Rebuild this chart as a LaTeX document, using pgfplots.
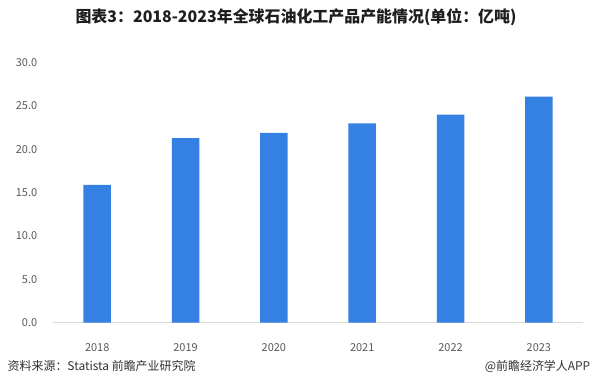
\documentclass[border=0pt]{standalone}
\usepackage{pgfplots}
\pgfplotsset{compat=1.18}
\usepackage{fontspec}
\setmainfont{Noto Sans CJK SC}
\definecolor{barblue}{RGB}{52,129,227}
\definecolor{tickgray}{RGB}{89,89,89}
\definecolor{axisgray}{RGB}{217,217,217}
\definecolor{titlecol}{RGB}{30,30,30}
\definecolor{footcol}{RGB}{50,50,50}
\begin{document}
\begin{tikzpicture}[x=1bp,y=1bp]
\useasboundingbox[fill=white] (0,0) rectangle (592,390);
\begin{axis}[
  at={(53bp,67.3bp)}, anchor=south west,
  scale only axis, width=530bp, height=260bp,
  xmin=-0.5, xmax=5.5, ymin=0, ymax=30,
  axis x line=bottom, axis y line=left,
  x axis line style={draw=axisgray, line width=0.8bp, -},
  y axis line style={draw=none},
  tick style={draw=none},
  ytick={0,5,10,15,20,25,30},
  xtick=data,
  xticklabels={2018,2019,2020,2021,2022,2023},
  /pgf/number format/assume math mode=true,
  yticklabel={\pgfmathprintnumber[fixed,fixed zerofill,precision=1]{\tick}},
  yticklabel style={font=\fontsize{11}{13}\selectfont, text=tickgray, anchor=east, inner sep=0pt, xshift=-13.5bp},
  xticklabel style={font=\fontsize{11}{13}\selectfont, text=tickgray, anchor=center, inner sep=0pt, yshift=-20.3bp},
  ybar, bar width=27.5bp,
  clip=false,
]
\addplot[fill=barblue, draw=none] coordinates {(0,15.9) (1,21.3) (2,21.9) (3,23.0) (4,24.0) (5,26.1)};
\end{axis}
\node[font=\bfseries\fontsize{16}{18}\selectfont, text=titlecol] at (296,373) {图表3：2018-2023年全球石油化工产品产能情况(单位：亿吨)};
\node[anchor=west, font=\fontsize{12}{14}\selectfont, text=footcol, inner sep=0pt] at (7.5,24) {资料来源：Statista 前瞻产业研究院};
\node[anchor=east, font=\fontsize{12}{14}\selectfont, text=footcol, inner sep=0pt] at (590.5,24) {@前瞻经济学人APP};
\end{tikzpicture}
\end{document}
